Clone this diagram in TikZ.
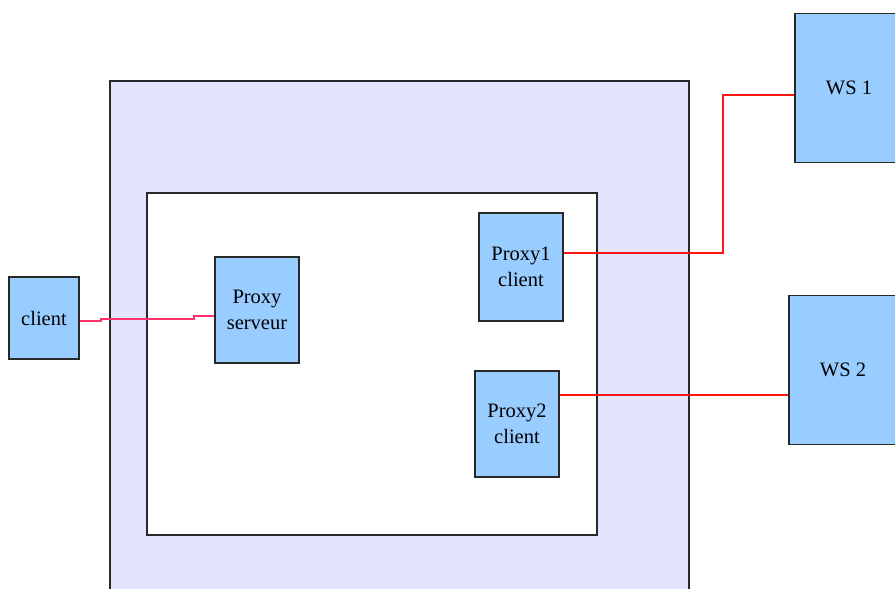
\documentclass[tikz,border=0pt]{standalone}
\usepackage{fontspec}
\setmainfont{Liberation Serif}
\definecolor{boxblue}{RGB}{153,204,255}
\definecolor{lavender}{RGB}{228,228,252}
\definecolor{edgegray}{RGB}{40,40,40}
\definecolor{linkred}{RGB}{255,20,20}
\definecolor{linkpink}{RGB}{255,50,110}
\usetikzlibrary{calc}

\begin{document}
\begin{tikzpicture}[
      x=1pt, y=-1pt,
      comp/.style={draw=edgegray, line width=1.4pt, fill=boxblue, align=center,
                   inner sep=0pt, font=\fontsize{20.5}{26}\selectfont},
      zone/.style={draw=edgegray, line width=1.4pt},
      link/.style={draw=linkred, line width=1.6pt},
      linkp/.style={draw=linkpink, line width=1.6pt}
  ]
  \clip (0,0) rectangle (895,589);
  \fill[white] (0,0) rectangle (895,589);

  %% ---- containers
  \draw[zone, fill=lavender] (110,81) rectangle (689,620);
  \draw[zone, fill=white]    (147,193) rectangle (597,535);

  %% ---- components
  \node[comp, minimum width=70, minimum height=82]   (client)    at (44,318)  {client};
  \node[comp, minimum width=84, minimum height=106]  (proxyserv) at (257,310) {Proxy\\serveur};
  \node[comp, minimum width=84, minimum height=108]  (proxyone)  at (521,267) {Proxy1\\client};
  \node[comp, minimum width=84, minimum height=106]  (proxytwo)  at (517,424) {Proxy2\\client};
  \node[comp, minimum width=108, minimum height=149] (wsone)     at (849,88)  {WS 1};
  \node[comp, minimum width=108, minimum height=149] (wstwo)     at (843,370) {WS 2};

  \coordinate (bend) at (723,253);

  %% ---- links
  \draw[linkp] ([yshift=-3pt]client.east) -- ++(21,0) -- ++(0,-2) -- ++(93,0)
               -- ++(0,-3) -- ([yshift=-6pt]proxyserv.west);
  \draw[link] ([yshift=14pt]proxyone.east) -- (bend) |- ([yshift=-7pt]wsone.west);
  \draw[link] ([yshift=29pt]proxytwo.east) -- ([yshift=-25pt]wstwo.west);
\end{tikzpicture}
\end{document}
